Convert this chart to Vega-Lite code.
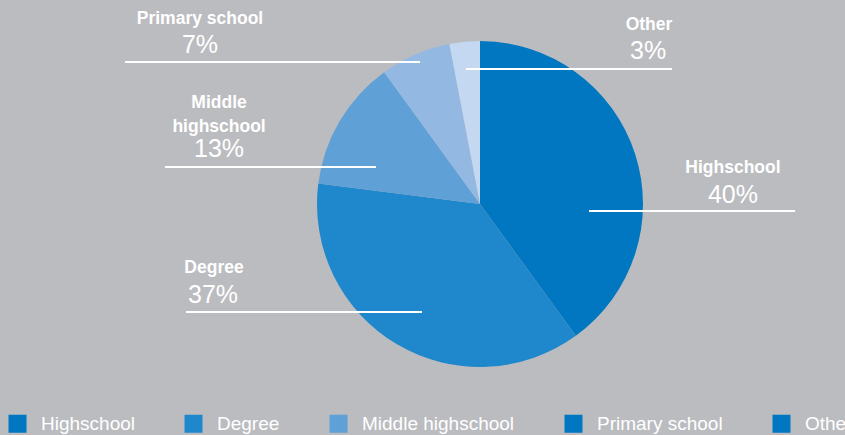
{
  "$schema": "https://vega.github.io/schema/vega-lite/v6.json",
  "autosize": "none",
  "width": 730,
  "height": 408,
  "padding": {"left": 115, "top": 0, "right": 0, "bottom": 27},
  "background": "#bbbcbf",
  "config": {"view": {"stroke": null}, "font": "Liberation Sans"},
  "datasets": {
    "slices": [
      {"level": "Highschool", "share": 40, "ord": 1},
      {"level": "Degree", "share": 37, "ord": 2},
      {"level": "Middle highschool", "share": 13, "ord": 3},
      {"level": "Primary school", "share": 7, "ord": 4},
      {"level": "Other", "share": 3, "ord": 5}
    ],
    "labels": [
      {"name": "Primary school", "pct": "7%", "nx": -171.8, "ny": 113.5, "px": -171.8, "py": 97.5, "x1": -217.8, "x2": -36.8, "ly": 87.1},
      {"name": "Other", "pct": "3%", "nx": 103.7, "ny": 109.8, "px": 103.1, "py": 93.9, "x1": -8.6, "x2": 117.8, "ly": 82.8},
      {"name": ["Middle", "highschool"], "pct": "13%", "nx": -160.1, "ny": 62.0, "px": -160.1, "py": 33.7, "x1": -193.3, "x2": -63.8, "ly": 22.7},
      {"name": "Highschool", "pct": "40%", "nx": 155.2, "ny": 22.1, "px": 155.2, "py": 5.5, "x1": 66.9, "x2": 193.3, "ly": -4.3},
      {"name": "Degree", "pct": "37%", "nx": -163.2, "ny": -39.3, "px": -163.8, "py": -55.8, "x1": -180.4, "x2": -35.6, "ly": -66.3}
    ]
  },
  "resolve": {"scale": {"color": "independent"}, "legend": {"color": "independent"}},
  "layer": [
    {
      "data": {"name": "slices"},
      "mark": {"type": "arc", "outerRadius": 0.5},
      "encoding": {
        "theta": {"field": "share", "type": "quantitative", "stack": true},
        "order": {"field": "ord", "type": "quantitative"},
        "color": {
          "field": "level",
          "type": "nominal",
          "scale": {
            "domain": ["Highschool", "Degree", "Middle highschool", "Primary school", "Other"],
            "range": ["#0077c0", "#1f88cc", "#5fa0d7", "#0077c0", "#0077c0"]
          },
          "legend": {
            "title": null,
            "orient": "none",
            "legendX": -107,
            "legendY": 414,
            "direction": "horizontal",
            "symbolType": "square",
            "symbolSize": 324,
            "symbolStrokeWidth": 0,
            "symbolOpacity": 1,
            "labelFont": "Liberation Sans",
            "labelFontSize": 19,
            "labelColor": "#ffffff",
            "labelOffset": 14,
            "columnPadding": 49
          }
        }
      }
    },
    {
      "data": {"name": "slices"},
      "mark": {"type": "arc", "outerRadius": 163},
      "encoding": {
        "theta": {"field": "share", "type": "quantitative", "stack": true},
        "order": {"field": "ord", "type": "quantitative"},
        "color": {
          "field": "level",
          "type": "nominal",
          "scale": {
            "domain": ["Highschool", "Degree", "Middle highschool", "Primary school", "Other"],
            "range": ["#0077c0", "#1f88cc", "#5fa0d7", "#93b9e2", "#c4d9f1"]
          },
          "legend": null
        }
      }
    },
    {
      "data": {"name": "labels"},
      "mark": {"type": "rule", "color": "#ffffff", "strokeWidth": 2},
      "encoding": {
        "x": {"field": "x1", "type": "quantitative", "scale": {"domain": [-223.93, 223.93], "nice": false, "zero": false}, "axis": null},
        "x2": {"field": "x2"},
        "y": {"field": "ly", "type": "quantitative", "scale": {"domain": [-125.15, 125.15], "nice": false, "zero": false}, "axis": null}
      }
    },
    {
      "data": {"name": "labels"},
      "mark": {"type": "text", "color": "#ffffff", "fontSize": 17.5, "fontWeight": "bold", "font": "Liberation Sans", "baseline": "middle", "align": "center", "lineHeight": 24},
      "encoding": {
        "x": {"field": "nx", "type": "quantitative", "scale": {"domain": [-223.93, 223.93], "nice": false, "zero": false}, "axis": null},
        "y": {"field": "ny", "type": "quantitative", "scale": {"domain": [-125.15, 125.15], "nice": false, "zero": false}, "axis": null},
        "text": {"field": "name"}
      }
    },
    {
      "data": {"name": "labels"},
      "mark": {"type": "text", "color": "#ffffff", "fontSize": 25, "font": "Liberation Sans", "baseline": "middle", "align": "center"},
      "encoding": {
        "x": {"field": "px", "type": "quantitative", "scale": {"domain": [-223.93, 223.93], "nice": false, "zero": false}, "axis": null},
        "y": {"field": "py", "type": "quantitative", "scale": {"domain": [-125.15, 125.15], "nice": false, "zero": false}, "axis": null},
        "text": {"field": "pct"}
      }
    }
  ]
}
